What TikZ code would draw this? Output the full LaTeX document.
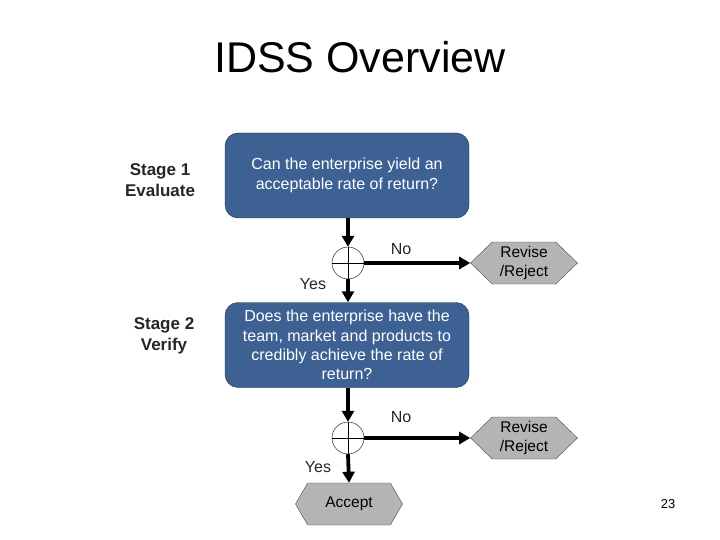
\documentclass[tikz,border=0pt]{standalone}
\usepackage{fontspec}
\setmainfont{Liberation Sans}
\usepackage{tikz}
\usetikzlibrary{positioning, arrows.meta, shapes.symbols}
\definecolor{qblue}{HTML}{3E6193}
\definecolor{qedge}{HTML}{1E2A3A}
\definecolor{qgray}{HTML}{B4B4B4}
\definecolor{dgray}{HTML}{262626}

\begin{document}
\begin{tikzpicture}[x=1pt, y=-1pt,
    question/.style={rectangle, draw=qedge, fill=qblue, text=white, minimum width=244pt, minimum height=85pt, align=center, rounded corners=13pt, font=\fontsize{16}{19.4}\selectfont},
    outcome/.style={signal, signal to=west and east, draw=black!70, fill=qgray, minimum height=42pt, align=center, font=\fontsize{15.5}{18.5}\selectfont},
    junction/.style={circle, draw=black, thin, fill=white, minimum size=32pt, inner sep=0pt,
        path picture={\draw[thin] (path picture bounding box.north) -- (path picture bounding box.south)
                                  (path picture bounding box.west) -- (path picture bounding box.east);}},
    stage/.style={font=\fontsize{17}{21}\selectfont\bfseries, text=dgray, align=center},
    lbl/.style={font=\fontsize{16}{19}\selectfont, text=dgray},
    arr/.style={-{Triangle[length=11pt, width=12pt]}, line width=3.8pt, black},
]
\useasboundingbox (0,0) rectangle (720,540);

\node[font=\fontsize{43}{50}\selectfont] (title) at (360,57) {IDSS Overview};

% stage one
\node[stage] (stage1) at (160,180) {Stage 1\\Evaluate};
\node[question] (q1) at (347,175.5) {Can the enterprise yield an\\acceptable rate of return?};
\node[junction] (j1) at (348,263) {};
\node[outcome, minimum width=107pt, signal pointer angle=88] (rev1) at (524,263) {Revise\\/Reject};

% stage two
\node[stage] (stage2) at (164,336) {Stage 2\\Verify};
\node[question] (q2) at (347,345) {Does the enterprise have the\\team, market and products to\\credibly achieve the rate of\\return?};
\node[junction] (j2) at (348,438) {};
\node[outcome, minimum width=107pt, signal pointer angle=88] (rev2) at (524,438) {Revise\\/Reject};
\node[outcome, minimum width=107pt, signal pointer angle=120] (acc) at (349,504) {Accept};

\draw[arr] (q1.south -| j1) -- (j1.north);
\draw[arr] (j1.east) -- (rev1.west);
\draw[arr] (j1.south) -- (q2.north -| j1);
\draw[arr] (q2.south -| j2) -- (j2.north);
\draw[arr] (j2.east) -- (rev2.west);
\draw[arr] (j2.south) -- (acc.north);

\node[lbl] (no1) at (401,249) {No};
\node[lbl] (yes1) at (313,284) {Yes};
\node[lbl] (no2) at (401,417) {No};
\node[lbl] (yes2) at (318,467) {Yes};

\node[font=\fontsize{13}{15}\selectfont] (page) at (668,504) {23};
\end{tikzpicture}
\end{document}
